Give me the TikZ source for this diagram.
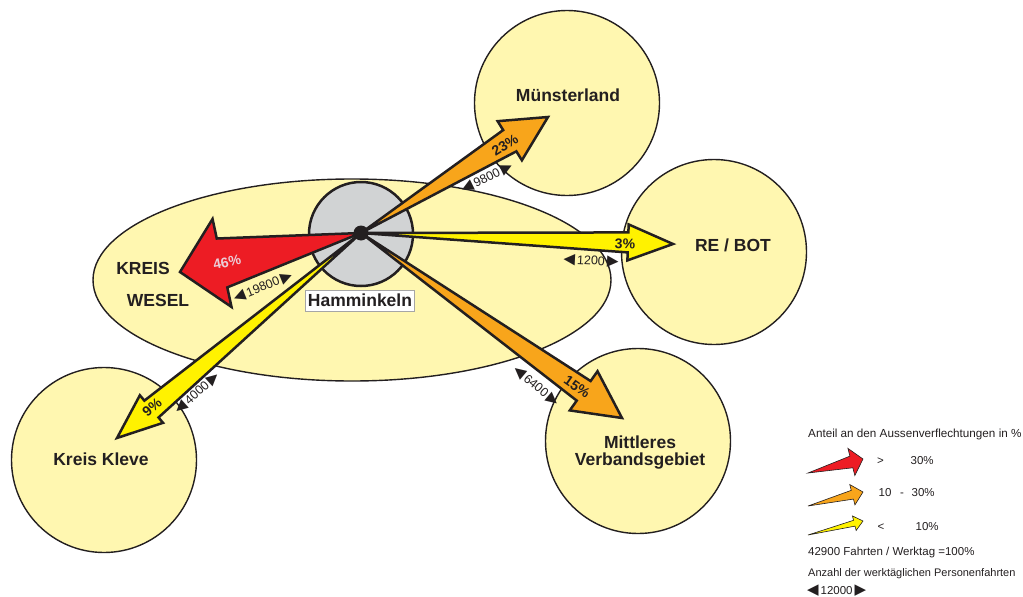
\documentclass[tikz,border=0pt]{standalone}
\usepackage{fontspec}
\setmainfont{Liberation Sans}
\newfontfamily\trifont{DejaVu Sans}
\usetikzlibrary{calc,shapes.geometric}

\definecolor{regionyellow}{RGB}{255,247,176}
\definecolor{hamgrey}{RGB}{209,211,212}
\definecolor{flowred}{RGB}{237,28,36}
\definecolor{floworange}{RGB}{248,165,27}
\definecolor{flowyellow}{RGB}{255,242,0}
\definecolor{inkblack}{RGB}{35,31,32}
\definecolor{pctpink}{RGB}{235,205,215}

\newcommand{\tril}{{\trifont\fontsize{15}{15}\selectfont\char"25C0}}
\newcommand{\trir}{{\trifont\fontsize{15}{15}\selectfont\char"25B6}}

\tikzset{
  region/.style={circle, draw=inkblack, line width=1.4pt, fill=regionyellow, minimum size=185pt, inner sep=0pt},
  regionlabel/.style={font=\fontsize{17.5}{16.5}\selectfont\bfseries, text=inkblack, inner sep=0pt, align=center},
  flowline/.style={draw=inkblack, line width=2.5pt, line join=miter},
  legendflow/.style={draw=inkblack, line width=0.6pt, line join=miter},
  pct/.style={font=\fontsize{14}{16}\selectfont\bfseries, text=inkblack, inner sep=0pt},
  fahrten/.style={font=\fontsize{12.5}{14}\selectfont, text=inkblack, inner sep=0pt},
  legendtext/.style={font=\fontsize{11.5}{14}\selectfont, text=inkblack, inner sep=0pt, anchor=west},
  legendrow/.style={font=\fontsize{11.5}{14}\selectfont, text=inkblack, inner sep=0pt, anchor=base west},
}

% wedge arrow: style, origin, tip, head length, neck half width, barb half width
\newcommand{\flowarrow}[6]{%
  \coordinate (neck) at ($(#3)!#4!(#2)$);
  \draw[#1] (#2) -- ($(neck)!#5!90:(#3)$) -- ($(neck)!#6!90:(#3)$) -- (#3)
    -- ($(neck)!#6!-90:(#3)$) -- ($(neck)!#5!-90:(#3)$) -- cycle;
}

\begin{document}
\begin{tikzpicture}[x=1pt, y=-1pt]
  \useasboundingbox (0,0) rectangle (1023,597);

  % areas
  \node[ellipse, draw=inkblack, line width=1.4pt, fill=regionyellow, minimum width=518pt, minimum height=202pt, inner sep=0pt] (kw) at (352,280) {};
  \node[region] (ms) at (567,103) {};
  \node[region] (rb) at (714,252) {};
  \node[region] (mv) at (638,441) {};
  \node[region] (kk) at (104,460) {};
  \node[circle, draw=inkblack, line width=2.5pt, fill=hamgrey, minimum size=104pt, inner sep=0pt] (hc) at (361,234) {};

  \node[regionlabel] (mslabel) at (568,95) {Münsterland};
  \node[regionlabel] (rblabel) at (733,245.5) {RE / BOT};
  \node[regionlabel] (mvlabel) at (640,452.5) {Mittleres\\Verbandsgebiet};
  \node[regionlabel] (kklabel) at (101,459) {Kreis Kleve};
  \node[regionlabel] (kwlabela) at (143,268) {KREIS};
  \node[regionlabel] (kwlabelb) at (158,300) {WESEL};

  % flows out of Hamminkeln
  \coordinate (ham) at (361,233);
  \coordinate (tipms) at (548,117);
  \coordinate (tiprb) at (673,244);
  \coordinate (tipmv) at (622,418);
  \coordinate (tipkk) at (117,438);
  \coordinate (tipkw) at (180,272);

  \flowarrow{flowline, fill=flowyellow}{ham}{tiprb}{45pt}{10pt}{18pt}
  \flowarrow{flowline, fill=flowyellow}{ham}{tipkk}{45pt}{11pt}{18pt}
  \flowarrow{flowline, fill=floworange}{ham}{tipms}{45pt}{12.5pt}{23pt}
  \flowarrow{flowline, fill=floworange}{ham}{tipmv}{47pt}{12pt}{24pt}
  \flowarrow{flowline, fill=flowred}{ham}{tipkw}{43pt}{25pt}{45pt}

  \node[circle, fill=inkblack, minimum size=15pt, inner sep=0pt] (hamdot) at (ham) {};
  \node[draw=gray!70, fill=white, line width=0.6pt, font=\fontsize{17.5}{20}\selectfont\bfseries, text=inkblack, inner xsep=2.5pt, inner ysep=4pt] (hamlabel) at (360,300.5) {Hamminkeln};

  % shares
  \node[pct, text=pctpink, rotate=12] (p46) at (227,262) {46\%};
  \node[pct, rotate=32] (p23) at (505,145) {23\%};
  \node[pct, rotate=-2] (p3) at (625,244) {3\%};
  \node[pct, rotate=-35] (p15) at (577,387) {15\%};
  \node[pct, rotate=40] (p9) at (152,407) {9\%};

  % trips per working day
  \node[fahrten, rotate=22] (f19800) at (263,287) {\tril\,19800\,\trir};
  \node[fahrten, rotate=26] (f9800) at (487,178) {\tril\,9800\,\trir};
  \node[fahrten, rotate=-3] (f1200) at (591,261) {\tril\,1200\,\trir};
  \node[fahrten, rotate=42] (f4000) at (197,393) {\tril\,4000\,\trir};
  \node[fahrten, rotate=-40] (f6400) at (536,386) {\tril\,6400\,\trir};

  % legend
  \node[legendtext, font=\fontsize{11.7}{14}\selectfont] (lgtitle) at (808,434) {Anteil an den Aussenverflechtungen in \%};
  \coordinate (lgtaila) at (808,473);
  \coordinate (lgtipa) at (863,459);
  \coordinate (lgtailb) at (808,506);
  \coordinate (lgtipb) at (863,492);
  \coordinate (lgtailc) at (808,535);
  \coordinate (lgtipc) at (863,521);
  \flowarrow{legendflow, fill=flowred}{lgtaila}{lgtipa}{12pt}{6pt}{14pt}
  \flowarrow{legendflow, fill=floworange}{lgtailb}{lgtipb}{11pt}{4.5pt}{10.5pt}
  \flowarrow{legendflow, fill=flowyellow}{lgtailc}{lgtipc}{9pt}{3pt}{7.5pt}
  \node[legendrow] (lgaa) at (877,464.5) {>};
  \node[legendrow] (lgab) at (910.5,464.5) {30\%};
  \node[legendrow] (lgba) at (878.5,496.5) {10};
  \node[legendrow] (lgbb) at (900,496.5) {-};
  \node[legendrow] (lgbc) at (911.5,496.5) {30\%};
  \node[legendrow] (lgca) at (877.5,530.5) {<};
  \node[legendrow] (lgcb) at (915.5,530.5) {10\%};
  \node[legendtext] (lgsum) at (808,553) {42900 Fahrten / Werktag =100\%};
  \node[legendtext, font=\fontsize{11}{14}\selectfont] (lgcount) at (808,574) {Anzahl der werktäglichen Personenfahrten};
  \node[legendtext] (lgscale) at (807,591) {\tril\,12000\,\trir};
\end{tikzpicture}
\end{document}
